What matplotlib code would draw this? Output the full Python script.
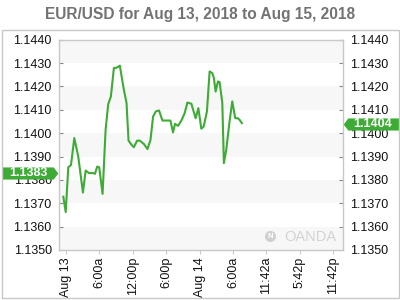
import matplotlib
matplotlib.use("Agg")
import matplotlib.pyplot as plt
import matplotlib.transforms as mtransforms
from matplotlib.patches import Rectangle
from matplotlib.path import Path

# ---- data (hours since Aug 13 00:00) ----
hours = [-0.48, -0.05, 0.41, 0.90, 1.49, 2.20, 3.04, 3.53, 4.12, 4.89, 5.19, 5.61,
         5.96, 6.57, 7.11, 7.58, 8.06, 8.60, 9.08, 9.67, 10.39, 10.87, 11.23, 11.77,
         12.18, 12.77, 13.25, 13.97, 14.63, 15.17, 15.64, 16.12, 16.71, 17.32, 18.04,
         18.75, 19.22, 19.58, 20.11, 20.72, 21.31, 21.80, 22.51, 23.28, 23.77, 24.30,
         24.72, 25.31, 25.79, 26.28, 26.56, 26.87, 27.28, 27.58, 28.07, 28.35, 28.78,
         29.37, 29.86, 30.39, 30.86, 31.17, 31.58]
prices = [1.13728, 1.13662, 1.13854, 1.13864, 1.13979, 1.13900, 1.13746, 1.13840,
          1.13829, 1.13829, 1.13826, 1.13857, 1.13854, 1.13740, 1.14014, 1.14124,
          1.14157, 1.14279, 1.14280, 1.14289, 1.14186, 1.14129, 1.13968, 1.13950,
          1.13940, 1.13968, 1.13968, 1.13954, 1.13932, 1.13971, 1.14071, 1.14093,
          1.14097, 1.14054, 1.14054, 1.14054, 1.14003, 1.14040, 1.14031, 1.14054,
          1.14086, 1.14131, 1.14126, 1.14064, 1.14107, 1.14019, 1.14028, 1.14093,
          1.14264, 1.14257, 1.14236, 1.14178, 1.14221, 1.14219, 1.14129, 1.13872,
          1.13929, 1.14050, 1.14136, 1.14064, 1.14064, 1.14057, 1.14043]

x_tick_pos = [0, 6, 12, 18, 24, 30, 36, 42, 48]
x_tick_labels = ["Aug 13", "6:00a", "12:00p", "6:00p", "Aug 14", "6:00a",
                 "11:42a", "5:42p", "11:42p"]
y_ticks = [1.1350, 1.1360, 1.1370, 1.1380, 1.1390, 1.1400, 1.1410, 1.1420,
           1.1430, 1.1440]
open_label = 1.1383
last_label = 1.1404

GREEN = "#3dab35"
FONT = "Liberation Sans"

fig = plt.figure(figsize=(4, 3), dpi=100)
fig.patch.set_facecolor("white")
ax = fig.add_axes([58.7 / 400, 50 / 300, 284 / 400, 210.3 / 300])

# alternating bands
for lo, hi in zip(y_ticks[:-1], y_ticks[1:]):
    idx = y_ticks.index(lo)
    if idx % 2 == 0:
        ax.axhspan(lo, hi, color="#f7f7f7", lw=0, zorder=0)

ax.plot(hours, prices, color=GREEN, lw=1.5, solid_joinstyle="round", zorder=3)

ax.set_xlim(-1.31, 49.69)
ax.set_ylim(1.1350, 1.1440)

ax.set_yticks(y_ticks)
ax.set_yticklabels([f"{v:.4f}" for v in y_ticks])
ax.set_xticks(x_tick_pos)
ax.set_xticklabels(x_tick_labels, rotation=90)

for s in ax.spines.values():
    s.set_color("#c8c8c8")
    s.set_linewidth(1.0)

ax.tick_params(axis="y", which="both", direction="in", length=3, color="#888888",
               labelsize=9, labelcolor="#111111", pad=5,
               left=True, right=True, labelleft=True, labelright=True)
ax.tick_params(axis="x", direction="out", length=3, color="#c8c8c8",
               labelsize=9, labelcolor="#111111", pad=2)
for lab in ax.get_xticklabels() + ax.get_yticklabels():
    lab.set_fontfamily(FONT)

# price flag markers
def flag_path(right=True):
    w, h, t = 27.5, 6.0, 4.5
    if right:
        verts = [(-w, -h), (w - t, -h), (w, 0), (w - t, h), (-w, h), (-w, -h)]
    else:
        verts = [(w, -h), (-w + t, -h), (-w, 0), (-w + t, h), (w, h), (w, -h)]
    codes = [Path.MOVETO] + [Path.LINETO] * 4 + [Path.CLOSEPOLY]
    return Path(verts, codes)

trans = mtransforms.blended_transform_factory(ax.transAxes, ax.transData)
px = 1 / 284.0
ax.plot([(30.2 - 58.7) * px], [open_label], marker=flag_path(True), markersize=40,
        color=GREEN, mew=0, transform=trans, clip_on=False, zorder=5)
ax.text((28.0 - 58.7) * px, open_label, f"{open_label:.4f}", transform=trans,
        ha="center", va="center", color="white", fontsize=9, fontweight="bold",
        family=FONT, clip_on=False, zorder=6)
ax.plot([(370.5 - 58.7) * px], [last_label], marker=flag_path(False), markersize=40,
        color=GREEN, mew=0, transform=trans, clip_on=False, zorder=5)
ax.text((372.5 - 58.7) * px, last_label, f"{last_label:.4f}", transform=trans,
        ha="center", va="center", color="white", fontsize=9, fontweight="bold",
        family=FONT, clip_on=False, zorder=6)

# watermark
ax.plot([0.745], [0.065], marker="o", markersize=8, color="#d0d0d0", mew=0,
        transform=ax.transAxes, zorder=2)
ax.text(0.745, 0.065, "N", transform=ax.transAxes, ha="center", va="center",
        color="white", fontsize=5.5, fontweight="bold", family=FONT, zorder=2)
ax.text(0.795, 0.062, "OANDA", transform=ax.transAxes, ha="left", va="center",
        color="#d3d3d3", fontsize=10.5, family=FONT, zorder=2)

# title
fig.text(0.5, 1 - 14 / 300, "EUR/USD for Aug 13, 2018 to Aug 15, 2018",
         ha="center", va="center", fontsize=11.2, fontweight="bold",
         color="#737373", family=FONT)

# outer border
fig.patches.append(Rectangle((1.5 / 400, 2 / 300), 397 / 400, 268 / 300,
                             transform=fig.transFigure, fill=False,
                             edgecolor="#c8c8c8", lw=1.0))

fig.savefig("out.png", dpi=100)
